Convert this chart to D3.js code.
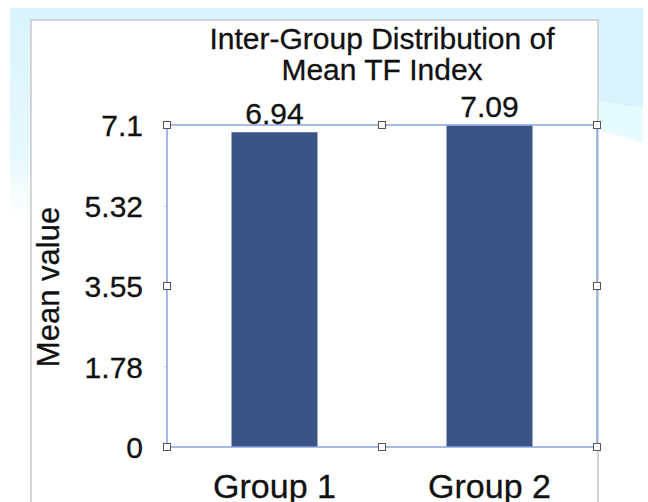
<!DOCTYPE html>
<html><head><meta charset="utf-8">
<script src="https://cdn.jsdelivr.net/npm/d3@7"></script>
<style>html,body{margin:0;padding:0;background:#fff;}svg{display:block;}</style>
</head><body>
<svg id="c" width="648" height="502"></svg>
<script>
const categories = ["Group 1", "Group 2"];
const values = [6.94, 7.09];
const yTicks = [0, 1.78, 3.55, 5.32, 7.1];
const titleLines = ["Inter-Group Distribution of", "Mean TF Index"];
const yTitle = "Mean value";

const svg = d3.select("#c");
const W = 648, H = 502;
const F = "'Liberation Sans', Arial, Helvetica, sans-serif";

// background (slide)
const defs = svg.append("defs");
const lg = defs.append("linearGradient").attr("id","lg").attr("x1",0).attr("y1",0).attr("x2",0).attr("y2",1);
lg.append("stop").attr("offset","0%").attr("stop-color","#daf3fd");
lg.append("stop").attr("offset","70%").attr("stop-color","#e6f9fd");
lg.append("stop").attr("offset","100%").attr("stop-color","#ffffff");
svg.append("rect").attr("width",W).attr("height",H).attr("fill","#fff");
svg.append("rect").attr("x",10).attr("y",8).attr("width",633).attr("height",14).attr("fill","#daf3fd");
svg.append("rect").attr("x",10).attr("y",8).attr("width",22).attr("height",210).attr("fill","url(#lg)");
svg.append("path").attr("d","M598,8 L643,8 L643,143 C630,138 612,134 598,130 Z").attr("fill","#e6fbfe");
svg.append("path").attr("d","M598,8 L643,8 L643,108 C630,106 612,103 598,100 Z").attr("fill","#d9f3fd");

// white panel
svg.append("rect").attr("x",31).attr("y",20).attr("width",567).attr("height",490).attr("fill","#fff")
  .attr("stroke","#c9c9c9").attr("stroke-width",1.5);

const m = {l:167, r:597, t:125, b:447};
const x = d3.scaleBand().domain(categories).range([m.l, m.r]).paddingInner(0.6).paddingOuter(0.3);
const y = d3.scaleLinear().domain([0, 7.1]).range([m.b, m.t]);

// bars
svg.selectAll("rect.bar").data(values).join("rect").attr("class","bar")
  .attr("x",(d,i)=>x(categories[i])).attr("width",x.bandwidth())
  .attr("y",d=>y(d)).attr("height",d=>y(0)-y(d)).attr("fill","#3a5486");

// y axis ticks
const ya = svg.append("g").attr("transform",`translate(${m.l},0)`)
  .call(d3.axisLeft(y).tickValues(yTicks).tickSize(3).tickPadding(21).tickFormat(d=>String(d)));
ya.select(".domain").remove();
ya.selectAll(".tick line").attr("stroke","#cccccc");
ya.selectAll("text").attr("font-family",F).attr("font-size",30).attr("fill","#111")
  .attr("stroke","#111").attr("stroke-width",0.3).attr("dy","0.36em");

// frame
svg.append("rect").attr("x",m.l).attr("y",m.t).attr("width",m.r-m.l).attr("height",m.b-m.t)
  .attr("fill","none").attr("stroke","#8ba2df").attr("stroke-width",1.5);
const hx = [m.l, (m.l+m.r)/2, m.r], hy = [m.t, (m.t+m.b)/2, m.b];
const handles = [];
hx.forEach((a,i)=>hy.forEach((b,j)=>{ if(!(i===1&&j===1)) handles.push([a,b]); }));
svg.selectAll("rect.h").data(handles).join("rect").attr("class","h")
  .attr("x",d=>d[0]-3.5).attr("y",d=>d[1]-3.5).attr("width",7).attr("height",7)
  .attr("fill","#fff").attr("stroke","#555").attr("stroke-width",1);

const txt = sel => sel.attr("font-family",F).attr("fill","#111").attr("stroke","#111").attr("stroke-width",0.3);

// value labels
svg.selectAll("text.v").data(values).join("text").attr("class","v")
  .attr("x",(d,i)=>x(categories[i])+x.bandwidth()/2).attr("y",d=>y(d)-8)
  .attr("text-anchor","middle").attr("font-size",30).call(txt)
  .text(d=>d.toFixed(2));

// category labels
svg.selectAll("text.c").data(categories).join("text").attr("class","c")
  .attr("x",d=>x(d)+x.bandwidth()/2).attr("y",498)
  .attr("text-anchor","middle").attr("font-size",34).call(txt)
  .text(d=>d);

// title
svg.selectAll("text.t").data(titleLines).join("text").attr("class","t")
  .attr("x",382).attr("y",(d,i)=>49+i*31)
  .attr("text-anchor","middle").attr("font-size",30).call(txt)
  .text(d=>d);

// y title
svg.append("text").attr("transform","translate(59,287) rotate(-90)")
  .attr("text-anchor","middle").attr("font-size",31).call(txt)
  .text(yTitle);
</script>
</body></html>
